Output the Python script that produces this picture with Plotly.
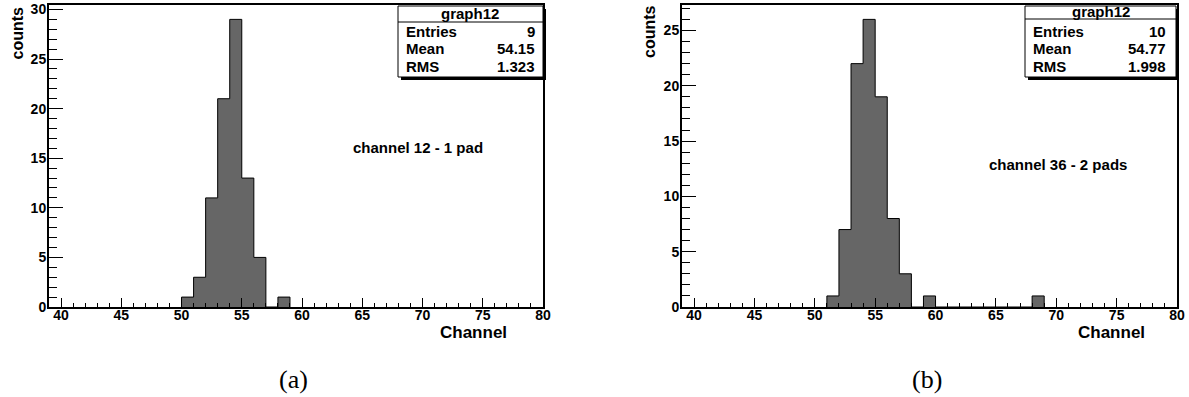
import numpy as np
import plotly.graph_objects as go

# ---- histogram contents (bin lower edge -> counts, unit-width bins) ----
left_channels = [50, 51, 52, 53, 54, 55, 56, 58]
left_counts = [1, 3, 11, 21, 29, 13, 5, 1]
right_channels = [51, 52, 53, 54, 55, 56, 57, 59, 68]
right_counts = [1, 7, 22, 26, 19, 8, 3, 1, 1]

# ---- statistics boxes ----
stat_title = "graph12"
stat_labels = ["Entries", "Mean", "RMS"]
left_stats = ["9", "54.15", "1.323"]
right_stats = ["10", "54.77", "1.998"]

# ---- text ----
left_note = "channel 12 - 1 pad"
right_note = "channel 36 - 2 pads"
x_title = "Channel"
y_title = "counts"
captions = ["(a)", "(b)"]

x_range = [39, 80]
x_ticks = [40, 45, 50, 55, 60, 65, 70, 75, 80]

W, H = 1189, 397
FILL = "#666666"
SANS = "Liberation Sans, Arial, Helvetica, sans-serif"


def px(x):
    return x / W


def py(y):
    return 1 - y / H


def step_xy(channels, counts):
    lo, hi = min(channels), max(channels) + 1
    edges = np.arange(lo, hi + 1)
    vals = np.zeros(len(edges) - 1)
    for c, n in zip(channels, counts):
        vals[c - lo] = n
    xs = [edges[0]] + list(edges[:-1]) + [edges[-1], edges[-1]]
    ys = [0] + list(vals) + [vals[-1], 0]
    return xs, ys


fig = go.Figure()

panels = [
    dict(ch=left_channels, cnt=left_counts, xa="x", ya="y",
         dom=[px(49), px(543)]),
    dict(ch=right_channels, cnt=right_counts, xa="x2", ya="y2",
         dom=[px(682), px(1177)]),
]

for p in panels:
    xs, ys = step_xy(p["ch"], p["cnt"])
    fig.add_trace(go.Scatter(
        x=xs, y=ys, mode="lines", line_shape="hv",
        line=dict(color="black", width=1),
        fill="tozeroy", fillcolor=FILL,
        xaxis=p["xa"], yaxis=p["ya"], showlegend=False, hoverinfo="skip"))

ydom = [py(307), py(5)]

axis_common = dict(
    showgrid=False, zeroline=False, showline=True, mirror=True,
    linecolor="black", linewidth=2, ticks="inside", tickcolor="black",
    tickwidth=1, automargin=False,
    tickfont=dict(family=SANS, size=14, color="black", weight="bold"),
)

for i, p in enumerate(panels):
    sfx = "" if i == 0 else str(i + 1)
    ymax = 1.05 * max(p["cnt"])
    fig.layout["xaxis" + sfx] = dict(
        axis_common, domain=p["dom"], range=x_range, anchor="y" + sfx,
        tickvals=x_ticks, ticklen=9, ticklabelstandoff=-6,
        minor=dict(dtick=1, ticklen=4.5, tickcolor="black", ticks="inside",
                   tickwidth=1, showgrid=False),
    )
    fig.layout["yaxis" + sfx] = dict(
        axis_common, domain=ydom, range=[0, ymax], anchor="x" + sfx,
        dtick=5, ticklen=14, ticklabelstandoff=-2,
        minor=dict(dtick=1, ticklen=7.5, tickcolor="black", ticks="inside",
                   tickwidth=1, showgrid=False),
    )

shapes = []
annotations = []


def stat_box(x0, x1, y0, y1, ysep, title_y, rows_y, lab_x, val_x, values):
    # shadow, box and title separator
    shapes.append(dict(type="rect", xref="paper", yref="paper",
                       x0=px(x0 + 3), x1=px(x1 + 3), y0=py(y1 + 3), y1=py(y0 + 3),
                       fillcolor="black", line=dict(width=0), layer="above"))
    shapes.append(dict(type="rect", xref="paper", yref="paper",
                       x0=px(x0), x1=px(x1), y0=py(y1), y1=py(y0),
                       fillcolor="white", line=dict(color="black", width=1),
                       layer="above"))
    shapes.append(dict(type="line", xref="paper", yref="paper",
                       x0=px(x0), x1=px(x1), y0=py(ysep), y1=py(ysep),
                       line=dict(color="black", width=1), layer="above"))
    annotations.append(dict(text=stat_title, x=px((x0 + x1) / 2), y=py(title_y),
                            xref="paper", yref="paper", showarrow=False,
                            xanchor="center", yanchor="middle",
                            font=dict(family=SANS, size=15, color="black",
                                      weight="bold")))
    for lab, val, ry in zip(stat_labels, values, rows_y):
        annotations.append(dict(text=lab, x=px(lab_x), y=py(ry), xref="paper",
                                yref="paper", showarrow=False, xanchor="left",
                                yanchor="middle",
                                font=dict(family=SANS, size=15, color="black",
                                          weight="bold")))
        annotations.append(dict(text=val, x=px(val_x), y=py(ry), xref="paper",
                                yref="paper", showarrow=False, xanchor="right",
                                yanchor="middle",
                                font=dict(family=SANS, size=15, color="black",
                                          weight="bold")))


stat_box(398, 543, 6, 77, 22, 14, [31, 49, 66], 404, 537, left_stats)
stat_box(1025, 1176, 6, 77, 19, 12, [31, 49, 67], 1031, 1168, right_stats)


def text(t, x, y, size, xanchor="center", angle=0, family=SANS, weight="bold"):
    annotations.append(dict(text=t, x=px(x), y=py(y), xref="paper", yref="paper",
                            showarrow=False, xanchor=xanchor, yanchor="middle",
                            textangle=angle,
                            font=dict(family=family, size=size, color="black",
                                      weight=weight)))


text(left_note, 351, 147, 15, xanchor="left")
text(right_note, 987, 164, 15, xanchor="left")
text(x_title, 509, 332, 17, xanchor="right")
text(x_title, 1147, 332, 17, xanchor="right")
text(y_title, 17.5, 33, 16, angle=-90)
text(y_title, 650, 32, 16, angle=-90)
text(captions[0], 293, 379, 26, family="Liberation Serif, serif", weight="normal")
text(captions[1], 927, 379, 26, family="Liberation Serif, serif", weight="normal")

fig.update_layout(
    width=W, height=H, margin=dict(l=0, r=0, t=0, b=0),
    paper_bgcolor="white", plot_bgcolor="white",
    shapes=shapes, annotations=annotations, showlegend=False,
)

fig.write_html("out.html")
